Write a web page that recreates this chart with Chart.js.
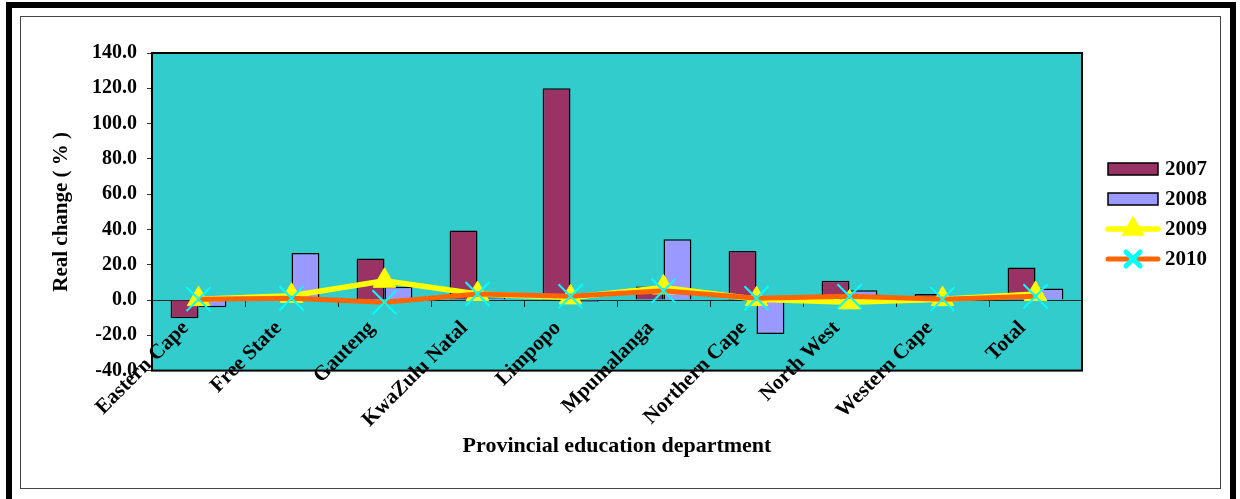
<!DOCTYPE html>
<html>
<head>
<meta charset="utf-8">
<script src="https://cdn.jsdelivr.net/npm/chart.js@4/dist/chart.umd.min.js"></script>
<style>
  html, body { margin: 0; padding: 0; background: #ffffff; width: 1240px; height: 499px; overflow: hidden; }
  #outer { position: absolute; left: 6px; top: 2px; width: 1218px; height: 520px;
           border-left: 6px solid #000; border-top: 6px solid #000; border-right: 6px solid #000; }
  #frame { position: absolute; left: 20px; top: 16px; width: 1199px; height: 471px; border: 1.5px solid #444; }
  #c { position: absolute; left: 0; top: 0; z-index: 2; }
</style>
</head>
<body>
<div id="outer"></div>
<div id="frame"></div>
<canvas id="c" width="1240" height="499"></canvas>
<script>
// Provincial education departments and yearly real change (%)
const provinces = ['Eastern Cape', 'Free State', 'Gauteng', 'KwaZulu Natal', 'Limpopo',
                   'Mpumalanga', 'Northern Cape', 'North West', 'Western Cape', 'Total'];
const change2007 = [-10.3, 0.4, 23.5, 39.4, 120.0, 7.6, 27.8, 10.9, 3.4, 18.4];
const change2008 = [-4.1, 26.7, 7.5, 1.5, -1.0, 34.4, -19.2, 5.6, 0.8, 6.6];
const change2009 = [0.5, 2.4, 10.9, 3.4, 1.5, 7.1, 0.5, -1.3, 0.5, 3.4];
const change2010 = [0.5, 1.0, -1.3, 3.4, 2.1, 5.2, 1.0, 2.1, 0.5, 2.1];
const yTicks = [-40, -20, 0, 20, 40, 60, 80, 100, 120, 140];

const serif = '"Liberation Serif", "Times New Roman", serif';

// Cyan plotting area with a black frame
const plotFrame = {
  id: 'plotFrame',
  beforeDraw(chart) {
    const { ctx, chartArea: a } = chart;
    ctx.save();
    ctx.fillStyle = '#33CCCC';
    ctx.fillRect(a.left, a.top, a.right - a.left, a.bottom - a.top);
    ctx.restore();
  },
  afterDraw(chart) {
    const { ctx, chartArea: a } = chart;
    ctx.save();
    ctx.strokeStyle = '#000';
    ctx.lineWidth = 2;
    ctx.strokeRect(a.left, a.top, a.right - a.left, a.bottom - a.top);
    ctx.restore();
  }
};

// Legend on the right: bar swatches and line samples with markers
const sideLegend = {
  id: 'sideLegend',
  afterDraw(chart, args, opts) {
    const { ctx } = chart;
    const x0 = opts.x, y0 = opts.y, gap = opts.gap, w = opts.swatch;
    ctx.save();
    ctx.font = 'bold 21px ' + serif;
    ctx.textBaseline = 'middle';
    ctx.textAlign = 'left';
    chart.data.datasets.forEach((ds, i) => {
      const cy = y0 + i * gap;
      if (ds.type === 'line') {
        ctx.strokeStyle = ds.borderColor;
        ctx.lineWidth = ds.borderWidth;
        ctx.lineCap = 'round';
        ctx.beginPath();
        ctx.moveTo(x0, cy);
        ctx.lineTo(x0 + w, cy);
        ctx.stroke();
        ctx.fillStyle = ds.pointBackgroundColor;
        ctx.strokeStyle = ds.pointBorderColor;
        Chart.helpers.drawPoint(ctx, { pointStyle: ds.pointStyle, radius: opts.markerRadius[ds.pointStyle], rotation: 0, borderWidth: ds.pointBorderWidth }, x0 + w / 2, cy);
      } else {
        ctx.fillStyle = ds.backgroundColor;
        ctx.fillRect(x0, cy - 6, w, 12);
        ctx.strokeStyle = '#000';
        ctx.lineWidth = 1.5;
        ctx.strokeRect(x0, cy - 6, w, 12);
      }
      ctx.fillStyle = '#000';
      ctx.fillText(ds.label, x0 + w + 7, cy + 1);
    });
    ctx.restore();
  }
};

new Chart(document.getElementById('c'), {
  type: 'bar',
  data: {
    labels: provinces,
    datasets: [
      { label: '2007', data: change2007, backgroundColor: '#993366', borderColor: '#000', borderWidth: 1.5, order: 3 },
      { label: '2008', data: change2008, backgroundColor: '#9999FF', borderColor: '#000', borderWidth: 1.5, order: 4 },
      { label: '2009', type: 'line', data: change2009, borderColor: '#FFFF00', borderWidth: 5.5,
        pointStyle: 'triangle', pointRadius: 13, pointBackgroundColor: '#FFFF00', pointBorderColor: '#FFFF00',
        pointBorderWidth: 1, tension: 0, order: 2 },
      { label: '2010', type: 'line', data: change2010, borderColor: '#FF6600', borderWidth: 5,
        pointStyle: 'crossRot', pointRadius: 17, pointBackgroundColor: '#00FFFF', pointBorderColor: '#00FFFF',
        pointBorderWidth: 2, tension: 0, order: 1 }
    ]
  },
  options: {
    responsive: false,
    animation: false,
    events: [],
    categoryPercentage: 0.6,
    barPercentage: 1.0,
    layout: { padding: { left: 20, top: 53, right: 158, bottom: 10 } },
    plugins: {
      legend: { display: false },
      tooltip: { enabled: false },
      title: {
        display: true, position: 'bottom', fullSize: false,
        text: 'Provincial education department', color: '#000',
        font: { family: serif, size: 22, weight: 'bold' },
        padding: { top: 63, bottom: 29 }
      },
      sideLegend: { x: 1108, y: 169, gap: 30, swatch: 50, markerRadius: { triangle: 8, crossRot: 10 } }
    },
    scales: {
      x: {
        type: 'category',
        offset: true,
        position: { y: 0 },
        grid: { offset: true, drawOnChartArea: false, drawTicks: true, tickLength: 6, color: '#222', lineWidth: 1 },
        border: { display: true, color: '#222', width: 1 },
        ticks: { autoSkip: false, minRotation: 45, maxRotation: 45, padding: 10, labelOffset: -13, color: '#000',
                 font: { family: serif, size: 21, weight: 'bold' } }
      },
      y: {
        min: -40, max: 140,
        afterBuildTicks(scale) { scale.ticks = yTicks.map(v => ({ value: v })); },
        afterFit(scale) { scale.width = 132; },
        grid: { drawOnChartArea: false, tickLength: 5, color: '#333', lineWidth: 1 },
        border: { display: true, color: '#000', width: 2 },
        ticks: { padding: 10, color: '#000', font: { family: serif, size: 20, weight: 'bold' },
                 callback: v => v.toFixed(1) },
        title: { display: true, text: 'Real change ( % )', color: '#000',
                 font: { family: serif, size: 21, weight: 'bold' }, padding: { top: 29, bottom: 0 } }
      }
    }
  },
  plugins: [plotFrame, sideLegend]
});
</script>
</body>
</html>
